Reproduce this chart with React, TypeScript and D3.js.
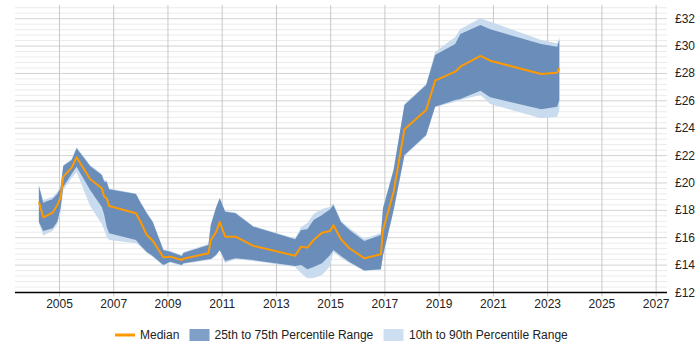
import React from "react";
import * as d3 from "d3";

const years = [2004.24, 2004.40, 2004.75, 2004.92, 2005.04, 2005.14, 2005.45, 2005.63, 2006.13, 2006.56, 2006.65, 2006.74, 2006.83, 2007.82, 2007.97, 2008.22, 2008.44, 2008.83, 2009.08, 2009.51, 2009.57, 2010.49, 2010.58, 2010.77, 2010.91, 2011.11, 2011.49, 2012.15, 2013.69, 2013.91, 2014.14, 2014.37, 2014.68, 2014.98, 2015.10, 2015.38, 2015.69, 2016.24, 2016.85, 2016.93, 2017.32, 2017.72, 2018.52, 2018.85, 2019.59, 2019.78, 2020.52, 2020.88, 2022.76, 2023.35, 2023.43];

const median = [18.63, 17.49, 17.83, 18.39, 18.95, 20.46, 21.12, 21.88, 20.29, 19.61, 19.00, 18.90, 18.32, 17.79, 17.24, 16.20, 15.78, 14.57, 14.62, 14.37, 14.47, 14.86, 15.83, 16.40, 17.15, 16.08, 16.08, 15.40, 14.69, 15.35, 15.27, 15.83, 16.37, 16.49, 16.91, 15.89, 15.23, 14.50, 14.79, 16.57, 19.36, 23.92, 25.33, 27.47, 28.13, 28.49, 29.28, 28.93, 27.96, 28.06, 28.38];

const p75 = [19.80, 18.56, 18.83, 19.20, 19.63, 21.24, 21.68, 22.53, 21.24, 20.58, 20.09, 20.09, 19.54, 19.20, 18.63, 17.79, 17.15, 15.10, 14.98, 14.67, 14.89, 15.47, 16.93, 18.17, 18.88, 17.90, 17.79, 16.81, 15.89, 16.57, 16.62, 17.30, 17.66, 18.08, 18.39, 17.15, 16.57, 15.76, 16.20, 18.15, 20.95, 25.70, 27.16, 29.35, 30.15, 30.88, 31.54, 31.23, 30.15, 29.95, 30.44];

const p90 = [19.85, 18.76, 19.00, 19.34, 19.78, 21.31, 21.75, 22.63, 21.31, 20.66, 20.22, 20.18, 19.60, 19.23, 18.68, 17.84, 17.19, 15.14, 15.03, 14.74, 14.96, 15.54, 17.00, 18.25, 18.94, 17.95, 17.84, 16.86, 15.94, 16.78, 17.08, 17.73, 18.10, 18.27, 18.54, 17.22, 16.71, 15.91, 16.35, 18.25, 21.02, 25.77, 27.23, 29.57, 30.66, 31.25, 32.03, 31.78, 30.44, 30.20, 30.69];

const p25 = [17.17, 16.49, 16.69, 17.17, 18.17, 19.73, 20.66, 21.19, 19.49, 18.25, 17.66, 16.81, 16.32, 15.83, 15.47, 14.96, 14.67, 14.01, 14.25, 14.01, 14.13, 14.43, 14.45, 14.74, 15.10, 14.30, 14.50, 14.37, 13.94, 14.01, 13.69, 13.86, 14.13, 14.74, 15.10, 14.67, 14.23, 13.61, 13.69, 14.74, 18.03, 22.04, 23.50, 25.57, 26.06, 26.13, 26.74, 26.26, 25.38, 25.57, 26.06];

const p10 = [17.08, 16.16, 16.51, 17.00, 17.81, 19.49, 20.36, 20.80, 18.32, 17.00, 16.57, 16.08, 15.83, 15.59, 15.40, 14.89, 14.59, 13.94, 14.19, 13.94, 14.08, 14.37, 14.37, 14.67, 15.03, 14.15, 14.45, 14.30, 13.86, 13.40, 13.04, 13.06, 13.28, 13.94, 14.96, 14.52, 14.15, 13.57, 13.64, 14.67, 17.95, 21.97, 23.43, 25.55, 25.94, 26.06, 26.43, 25.77, 24.72, 24.84, 25.33];

const xTickYears = [2005, 2007, 2009, 2011, 2013, 2015, 2017, 2019, 2021, 2023, 2025, 2027];
const yTickValues = [12, 14, 16, 18, 20, 22, 24, 26, 28, 30, 32];
const legendLabels = ["Median", "25th to 75th Percentile Range", "10th to 90th Percentile Range"];

const FONT = "'Liberation Sans', Arial, sans-serif";

export default function App() {
  const width = 700;
  const height = 350;
  const left = 15;
  const right = 667;
  const top = 5;
  const bottom = 292.5;

  const x = d3.scaleLinear().domain([2003.36, 2027.4]).range([left, right]);
  const y = d3.scaleLinear().domain([12, 33]).range([bottom, top]);

  const rows = years.map((yr, i) => ({
    yr,
    med: median[i],
    a: p25[i],
    b: p75[i],
    lo: p10[i],
    hi: p90[i],
  }));

  const outerArea = d3
    .area<any>()
    .x((d) => x(d.yr))
    .y0((d) => y(d.lo))
    .y1((d) => y(d.hi));
  const innerArea = d3
    .area<any>()
    .x((d) => x(d.yr))
    .y0((d) => y(d.a))
    .y1((d) => y(d.b));
  const medLine = d3
    .line<any>()
    .x((d) => x(d.yr))
    .y((d) => y(d.med));

  const minor: number[] = [];
  for (let k = 0; k <= 52; k++) {
    const v = 12 + k * 0.4;
    if (v > 33.001) break;
    if (Math.abs(v / 2 - Math.round(v / 2)) < 1e-6) continue;
    minor.push(v);
  }

  return (
    <svg
      width={width}
      height={height}
      style={{ position: "absolute", left: 0, top: 0, display: "block", background: "#fff" }}
      fontFamily={FONT}
    >
      {minor.map((v) => (
        <line key={"mn" + v} x1={left} x2={right} y1={y(v)} y2={y(v)} stroke="#ebebeb" strokeWidth={1} />
      ))}
      {yTickValues.map((v) => (
        <line key={"mj" + v} x1={left} x2={right} y1={y(v)} y2={y(v)} stroke="#d2d2d2" strokeWidth={1} />
      ))}
      {xTickYears.map((yr) => (
        <line key={"vx" + yr} x1={x(yr)} x2={x(yr)} y1={top} y2={bottom + 4} stroke="#c8c8c8" strokeWidth={1} />
      ))}

      <path d={outerArea(rows) || ""} fill="#c9dbee" />
      <path d={innerArea(rows) || ""} fill="#6a8eb9" />
      <path d={medLine(rows) || ""} fill="none" stroke="#ff9900" strokeWidth={2} strokeLinejoin="round" />

      <line x1={left} x2={right} y1={bottom} y2={bottom} stroke="#000" strokeWidth={1.5} />

      {xTickYears.map((yr) => (
        <text key={"xl" + yr} x={x(yr)} y={308} textAnchor="middle" fontSize={12} fill="#222">
          {yr}
        </text>
      ))}
      {yTickValues.map((v) => (
        <text key={"yl" + v} x={675} y={y(v) + 4} textAnchor="start" fontSize={12} fill="#222">
          {"£" + v}
        </text>
      ))}

      <g>
        <line x1={115} x2={135} y1={335} y2={335} stroke="#ff9900" strokeWidth={3} />
        <text x={140} y={339} fontSize={12} fill="#222">{legendLabels[0]}</text>
        <rect x={189.5} y={329} width={20} height={12} fill="#809fc6" />
        <text x={214.5} y={339} fontSize={12} fill="#222">{legendLabels[1]}</text>
        <rect x={383.5} y={329} width={20} height={12} fill="#cddff0" />
        <text x={409} y={339} fontSize={12} fill="#222">{legendLabels[2]}</text>
      </g>
    </svg>
  );
}
